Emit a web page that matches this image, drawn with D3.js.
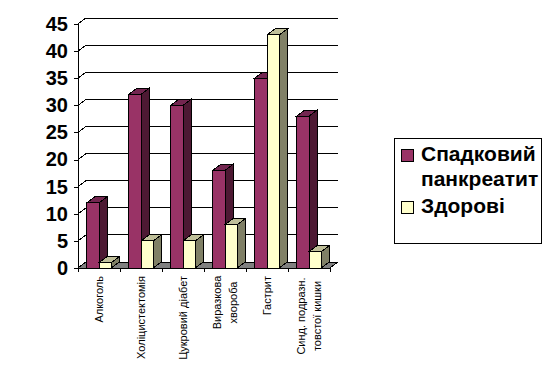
<!DOCTYPE html>
<html><head><meta charset="utf-8">
<style>html,body{margin:0;padding:0;background:#fff}svg{display:block;shape-rendering:crispEdges}text{font-family:"Liberation Sans",Arial,sans-serif;fill:#000}</style>
<script src="https://cdn.jsdelivr.net/npm/d3@7/dist/d3.min.js"></script>
</head><body><script>
const categories=["Алкоголь","Холіцистектомія","Цукровий діабет","Виразкова|хвороба","Гастрит","Синд. подразн.|товстої кишки"];
const pancreatitis=[12,32,30,18,35,28];
const healthy=[1,5,5,8,43,3];
const seriesNames=["Спадковий|панкреатит","Здорові"];
const yTicks=d3.range(0,46,5);
const dx=8,dy=6;
const svg=d3.select("body").append("svg").attr("width",554).attr("height",386);
const x=d3.scaleBand().domain(categories).range([78,330]);
const y=d3.scaleLinear().domain([0,45]).range([268,24]);
const gx=d3.scaleBand().domain([0,1]).range([0,x.bandwidth()]).paddingInner(0).paddingOuter(0.7);
const colors=[{f:"#993366",s:"#4d1933",t:"#732650"},{f:"#ffffcc",s:"#808066",t:"#bfbf99"}];
// floor
svg.append("path").attr("d",`M${x.range()[0]},${y(0)}L${x.range()[0]+dx},${y(0)-dy}H${x.range()[1]+dx}L${x.range()[1]},${y(0)}Z`).attr("fill","#808080").attr("stroke","#000");
// gridlines
const grid=svg.append("g");
yTicks.filter(t=>t>0).forEach(t=>{
  grid.append("path").attr("fill","none").attr("stroke","#000")
   .attr("d",`M78,${y(t)}L${78+dx},${y(t)-dy}H${330+dx}`);
});
// axes
const ya=svg.append("g").attr("transform","translate(78,0)").call(d3.axisLeft(y).tickValues(yTicks).tickSize(4).tickPadding(6));
ya.selectAll("text").style("font-size","20px").style("font-weight","bold").style("font-family",'"Liberation Sans",Arial,sans-serif').attr("fill","#000");
ya.selectAll("path,line").attr("stroke","#000");
const xa=svg.append("g").attr("transform",`translate(0,${y(0)})`).call(d3.axisBottom(x).tickSize(0).tickFormat(""));
xa.selectAll("path").attr("stroke","#000");
xa.selectAll(".tick").remove();
const tickX=categories.map(c=>x(c)).concat([x.range()[1]]);
svg.append("g").selectAll("line").data(tickX).join("line").attr("x1",d=>d).attr("x2",d=>d)
  .attr("y1",y(0)).attr("y2",y(0)+4).attr("stroke","#000");
// bars
function bar(g,x0,w,v,c){
  const yt=y(v),yb=y(0);
  g.append("path").attr("d",`M${x0+w},${yb}L${x0+w+dx},${yb-dy}V${yt-dy}L${x0+w},${yt}Z`).attr("fill",c.s).attr("stroke","#000");
  g.append("path").attr("d",`M${x0},${yt}L${x0+dx},${yt-dy}H${x0+w+dx}L${x0+w},${yt}Z`).attr("fill",c.t).attr("stroke","#000");
  g.append("rect").attr("x",x0).attr("y",yt).attr("width",w).attr("height",yb-yt).attr("fill",c.f).attr("stroke","#000");
}
const bars=svg.append("g");
categories.forEach((c,i)=>{
  bar(bars,x(c)+gx(0),gx.bandwidth(),pancreatitis[i],colors[0]);
  bar(bars,x(c)+gx(1),gx.bandwidth(),healthy[i],colors[1]);
});
// category labels
categories.forEach(c=>{
  const lines=c.split("|"),cx=x(c)+x.bandwidth()/2;
  lines.forEach((l,j)=>{
    const lx=cx+(lines.length>1?(j===0?-8:8):0);
    svg.append("text").attr("transform",`translate(${lx+4},${lines.length>1?276+(c.startsWith("Синд")?40:26.5):276}) rotate(-90)`)
      .attr("text-anchor",lines.length>1?"middle":"end").style("font-size","11px").attr("fill","#222").text(l);
  });
});
// legend
const lg=svg.append("g");
lg.append("rect").attr("x",394.5).attr("y",138.5).attr("width",147).attr("height",105).attr("fill","#fff").attr("stroke","#000");
const legendY=d3.scalePoint().domain(seriesNames).range([155,207]);
seriesNames.forEach((n,i)=>{
  const cy=legendY(n);
  lg.append("rect").attr("x",401.5).attr("y",cy-6).attr("width",12).attr("height",12).attr("fill",colors[i].f).attr("stroke","#000");
  n.split("|").forEach((l,j)=>{
    lg.append("text").attr("x",421).attr("y",cy+6+j*25).style("font-size","21px").style("font-weight","bold").text(l);
  });
});
</script></body></html>
